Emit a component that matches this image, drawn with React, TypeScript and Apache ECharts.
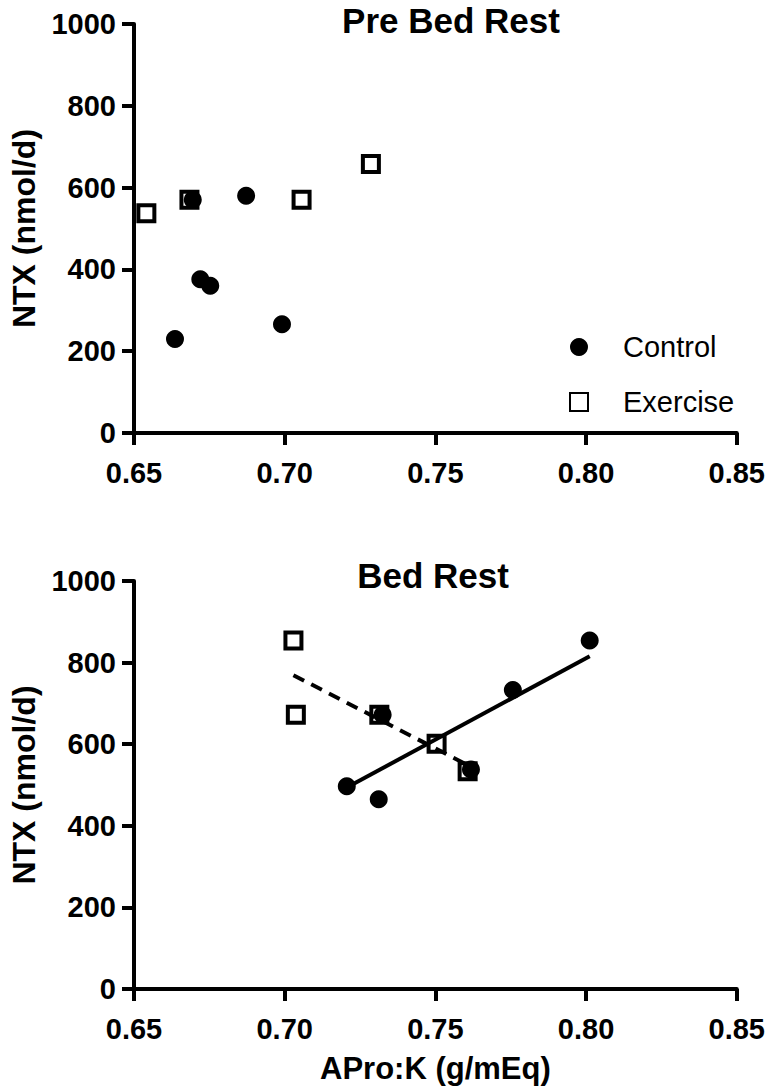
import React, { useEffect, useRef } from "react";
import * as echarts from "echarts";

// Data (x = APro:K g/mEq, y = NTX nmol/d)
const preControl: number[][] = [
  [0.6636, 230], [0.6695, 570], [0.672, 376], [0.6753, 360], [0.6872, 580], [0.6991, 266],
];
const preExercise: number[][] = [
  [0.6541, 537], [0.6684, 570], [0.7056, 570], [0.7286, 658],
];
const bedControl: number[][] = [
  [0.7206, 497], [0.7312, 465], [0.7325, 672], [0.7618, 538], [0.7757, 733], [0.8012, 854],
];
const bedExercise: number[][] = [
  [0.7029, 854], [0.7037, 672], [0.7314, 672], [0.7504, 601], [0.7607, 534],
];
const xTicks = { min: 0.65, max: 0.85, interval: 0.05 };
const yTicks = { min: 0, max: 1000, interval: 200 };
const panelTitles = ["Pre Bed Rest", "Bed Rest"];
const seriesNames = ["Control", "Exercise"];
const xName = "APro:K (g/mEq)";
const yName = "NTX (nmol/d)";

function fitLine(pts: number[][]): number[][] {
  const n = pts.length;
  const mx = pts.reduce((s, p) => s + p[0], 0) / n;
  const my = pts.reduce((s, p) => s + p[1], 0) / n;
  let sxy = 0, sxx = 0;
  pts.forEach((p) => { sxy += (p[0] - mx) * (p[1] - my); sxx += (p[0] - mx) ** 2; });
  const b = sxy / sxx;
  const xs = pts.map((p) => p[0]);
  const x0 = Math.min(...xs), x1 = Math.max(...xs);
  return [[x0, my + b * (x0 - mx)], [x1, my + b * (x1 - mx)]];
}

const FONT = "Liberation Sans, Arial, Helvetica, sans-serif";

export default function App() {
  const ref = useRef<HTMLDivElement>(null);
  useEffect(() => {
    document.body.style.margin = "0";
    const chart = echarts.init(ref.current!, undefined, { renderer: "svg" });
    const axisLine = { show: true, onZero: false, lineStyle: { color: "#000", width: 4 } };
    const axisTick = { show: true, length: 12, lineStyle: { color: "#000", width: 4 } };
    const mkX = (gi: number, named: boolean) => ({
      type: "value", gridIndex: gi, ...xTicks,
      axisLine, axisTick, splitLine: { show: false },
      axisLabel: {
        formatter: (v: number) => v.toFixed(2), color: "#000", fontFamily: FONT,
        fontWeight: "bold", fontSize: 29, margin: 25,
      },
      name: named ? xName : "", nameLocation: "middle", nameGap: 64,
      nameTextStyle: { color: "#000", fontFamily: FONT, fontWeight: "bold", fontSize: 31 },
    });
    const mkY = (gi: number) => ({
      type: "value", gridIndex: gi, ...yTicks,
      axisLine, axisTick, splitLine: { show: false },
      axisLabel: {
        formatter: (v: number) => String(v), color: "#000", fontFamily: FONT,
        fontWeight: "bold", fontSize: 29, margin: 18,
      },
      name: yName, nameLocation: "middle", nameGap: 94,
      nameTextStyle: { color: "#000", fontFamily: FONT, fontWeight: "bold", fontSize: 32 },
    });
    const circle = (data: number[][], gi: number) => ({
      name: seriesNames[0], type: "scatter", xAxisIndex: gi, yAxisIndex: gi, data,
      symbol: "circle", symbolSize: 18, z: 4,
      itemStyle: { color: "#000", borderWidth: 0, opacity: 1 },
    });
    const square = (data: number[][], gi: number) => ({
      name: seriesNames[1], type: "scatter", xAxisIndex: gi, yAxisIndex: gi, data,
      symbol: "rect", symbolSize: 16, z: 3,
      itemStyle: { color: "#fff", borderColor: "#000", borderWidth: 4, opacity: 1 },
    });
    const fit = (pts: number[][], dashed: boolean) => ({
      name: dashed ? "Exercise fit" : "Control fit", type: "line", xAxisIndex: 1, yAxisIndex: 1,
      data: fitLine(pts), showSymbol: false, symbol: "none", silent: true, z: 5,
      lineStyle: { color: "#000", width: 4, type: dashed ? [12, 8] : "solid" },
    });
    chart.setOption({
      animation: false,
      backgroundColor: "#fff",
      grid: [
        { left: 125, top: 24, width: 614, height: 409 },
        { left: 125, top: 581, width: 614, height: 408 },
      ],
      xAxis: [mkX(0, false), mkX(1, true)],
      yAxis: [mkY(0), mkY(1)],
      legend: {
        data: seriesNames, orient: "vertical", left: 564, top: 325,
        itemWidth: 18, itemHeight: 18, itemGap: 21,
        textStyle: { color: "#000", fontFamily: FONT, fontSize: 29, lineHeight: 34, padding: [0, 0, 0, 30] },
      },
      graphic: [
        { type: "text", x: 451, y: 20, style: { text: panelTitles[0], align: "center", verticalAlign: "middle", fill: "#000", font: "bold 35px Liberation Sans, Arial, sans-serif" } },
        { type: "text", x: 433, y: 575, style: { text: panelTitles[1], align: "center", verticalAlign: "middle", fill: "#000", font: "bold 35px Liberation Sans, Arial, sans-serif" } },
      ],
      series: [
        square(preExercise, 0), circle(preControl, 0),
        square(bedExercise, 1), circle(bedControl, 1),
        fit(bedControl, false), fit(bedExercise, true),
      ],
    });
    return () => chart.dispose();
  }, []);
  return <div ref={ref} style={{ width: 768, height: 1091 }} />;
}
